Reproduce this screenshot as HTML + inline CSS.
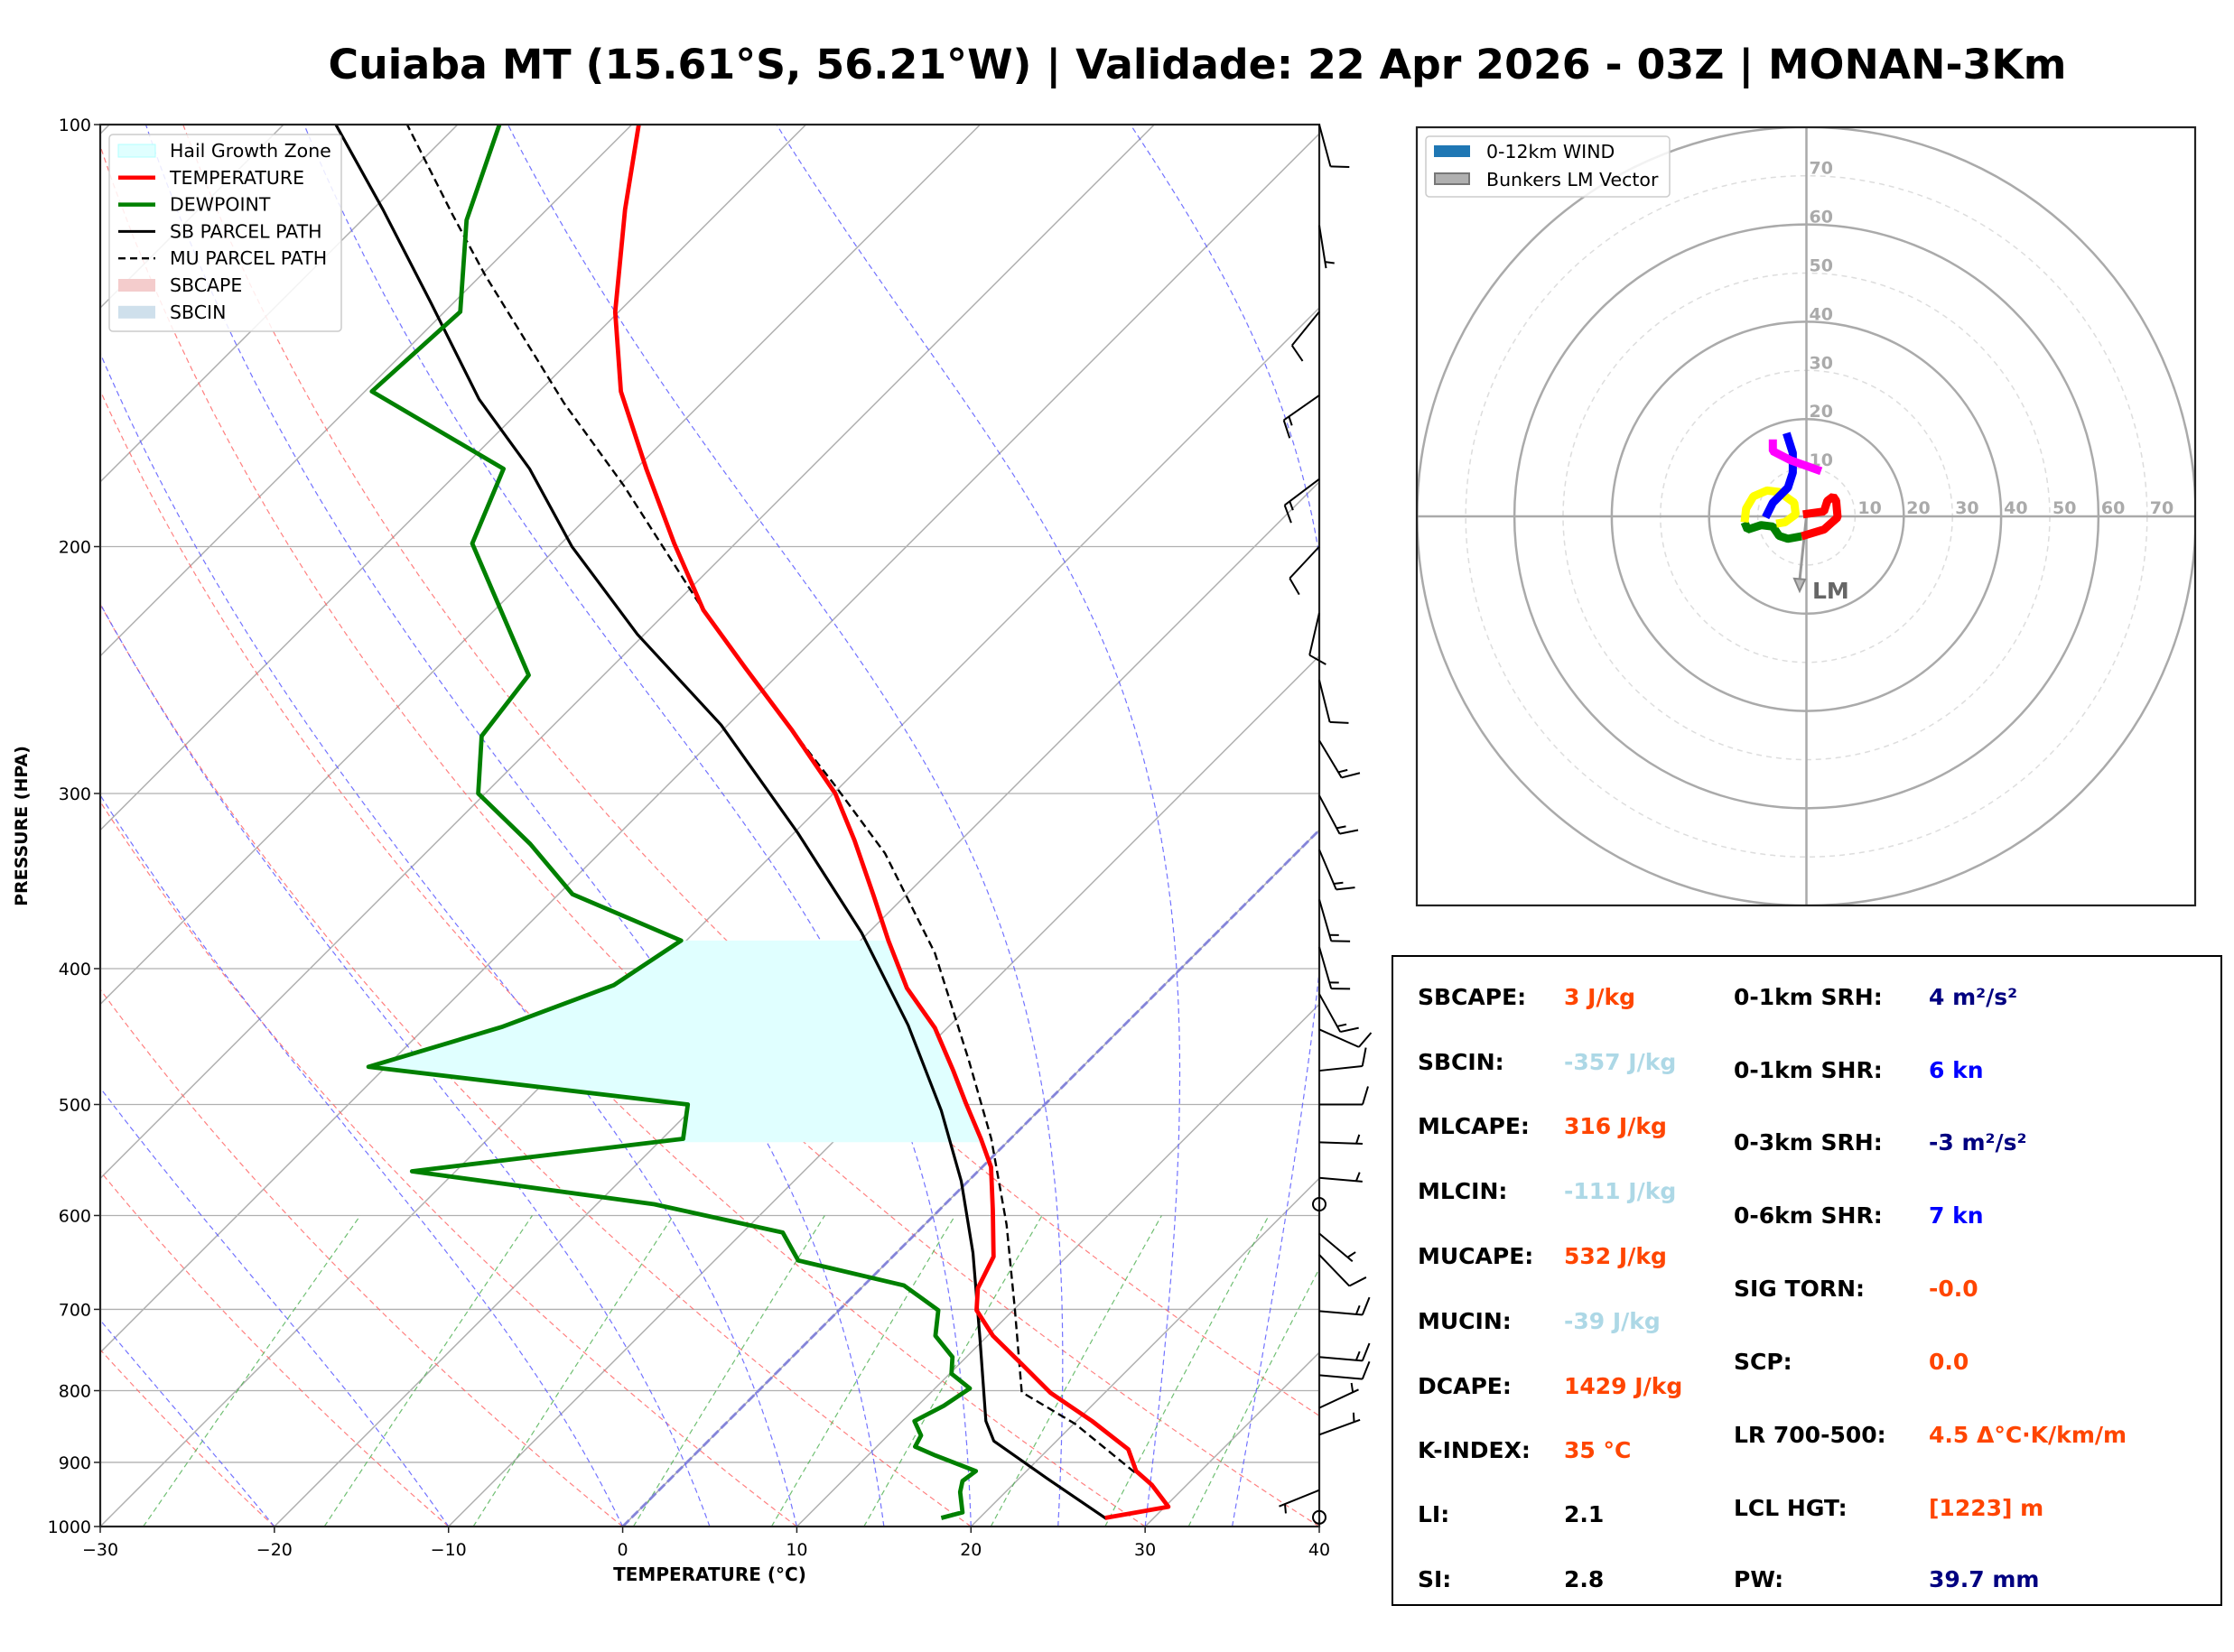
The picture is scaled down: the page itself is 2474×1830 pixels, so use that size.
<!DOCTYPE html>
<html><head><meta charset="utf-8"><style>
html,body{margin:0;padding:0;background:#fff}
svg{display:block;font-family:"DejaVu Sans","Liberation Sans",sans-serif}
</style></head><body>
<svg id="root" width="2474" height="1830" viewBox="0 0 2474 1830" xmlns="http://www.w3.org/2000/svg">
<defs>
<clipPath id="skewClip"><rect x="111" y="138" width="1350" height="1553"/></clipPath>
<clipPath id="hodoClip"><rect x="1569" y="141" width="862" height="862"/></clipPath>
</defs>
<rect x="0" y="0" width="2474" height="1830" fill="#fff"/>
<text x="1326" y="87" text-anchor="middle" font-size="45" font-weight="bold" textLength="1925" lengthAdjust="spacingAndGlyphs">Cuiaba MT (15.61°S, 56.21°W) | Validade: 22 Apr 2026 - 03Z | MONAN-3Km</text>
<g id="skew"></g>
<g id="hodo"></g>
<g id="table">
<rect x="1542" y="1059" width="918" height="719" fill="#fff" stroke="#000" stroke-width="2"/>
</g>
</svg>
<script>
// ---------- data ----------
const tempP=[986,968,934,913,881,841,803,766,731,701,676,642,595,554,529,499,473,441,413,382,355,324,300,270,244,222,199,176,155,136,115,100];
const tempT=[27.2,30.2,28.0,26.3,24.6,20.9,16.9,13.6,10.3,7.9,6.7,5.8,3.1,0.5,-1.7,-4.6,-7.2,-10.7,-14.6,-18.4,-21.8,-26.1,-29.9,-36.1,-42.3,-48.0,-53.5,-59.4,-65.3,-70.2,-75.5,-79.6];
const dewP=[986,977,945,928,913,890,877,861,841,820,797,778,757,731,701,673,646,617,589,558,529,500,470,440,411,382,354,326,300,273,247,199,176,155,136,117,100];
const dewT=[17.8,18.7,17.4,16.9,17.1,13.9,12.2,11.9,10.7,11.5,12.0,10.1,9.2,7.0,5.7,2.3,-5.2,-7.7,-16.7,-32.5,-18.8,-20.5,-41,-35.6,-31.6,-30.3,-39.2,-44.5,-50.4,-53.5,-54.3,-65.1,-67.6,-79.6,-79.1,-84,-87.6];
const sbP=[987,924,869,841,734,638,567,505,439,377,320,268,231,200,176,157,134,115,100];
const sbT=[27.3,21.6,16.4,14.8,9.7,4.4,-0.4,-5.6,-12.4,-20.4,-29.8,-40.4,-50.4,-59.2,-66.1,-73,-81.3,-89.4,-97];
const muP=[915,845,802,701,609,529,465,390,331,295,259,222,181,158,128,116,100];
const muT=[26.3,20.1,15.2,10.1,4.7,-1.1,-6.9,-15,-23.6,-30.6,-38.7,-48,-59.7,-67.9,-79.8,-85.1,-92.9];
const hgzTop=382, hgzBot=532;
const xTicks=[-30,-20,-10,0,10,20,30,40];
const pTicks=[100,200,300,400,500,600,700,800,900,1000];
const barbP=[100,118,136,156,179,200,223,249,275,301,329,357,386,417,442,473,500,532,564,618,640,702,757,780,823,860,942];
const barbDir=[165,171,219,235,233,223,193,166,149,152,157,164,164,151,114,84,90,92,95,130,136,95,95,95,65,70,248];
const barbSpd=[10,5,10,15,15,10,10,10,15,15,15,15,15,15,10,10,10,5,5,5,10,15,15,10,5,5,5];
const calmP=[589,985];
// hodograph (kt)
const hodoRedU=[-0.7,3.6,4.3,5.5,6.1,6.4,3.6,-1.0];
const hodoRedV=[0.4,1.0,3.2,4.1,3.2,-0.2,-2.7,-4.1];
const hodoGreenU=[-1.0,-3.8,-5.6,-6.9,-9.3,-12.1,-12.7];
const hodoGreenV=[-4.1,-4.6,-4.0,-2.1,-1.8,-2.7,-1.2];
const hodoYellowU=[-12.7,-12.4,-10.9,-8.1,-5.6,-2.5,-2.2,-4.4,-6.2];
const hodoYellowV=[-1.2,1.6,4.1,5.3,5.0,2.8,0.4,-1.2,-1.5];
const hodoBlueU=[-8.4,-6.9,-3.8,-2.8,-2.8,-4.1];
const hodoBlueV=[-0.2,2.8,5.9,9.0,13.0,17.1];
const hodoMagU=[-6.9,-6.9,-3.2,3.0];
const hodoMagV=[15.8,13.4,11.5,9.3];
const lmU=-1.4, lmV=-15.0;
const hodoRings=[10,20,30,40,50,60,70,80];
// ---------- helpers ----------
const NS="http://www.w3.org/2000/svg";
function mk(tag,attrs,parent){const e=document.createElementNS(NS,tag);for(const k in attrs)e.setAttribute(k,attrs[k]);parent.appendChild(e);return e;}
const X0=111,X1=1461,Y0=138,Y1=1691,PXC=(X1-X0)/70;
function yP(p){return Y1-(Y1-Y0)*Math.log10(1000/p);}
function xTP(t,p){return X0+(t+30)*PXC+(Y1-yP(p));}
function pathFrom(P,T){return P.map((p,i)=>(i?'L':'M')+xTP(T[i],p).toFixed(1)+','+yP(p).toFixed(1)).join('');}
function interp(P,T,p){for(let i=0;i<P.length-1;i++){const a=P[i],b=P[i+1];if((p<=a&&p>=b)){const f=(Math.log(a)-Math.log(p))/(Math.log(a)-Math.log(b));return T[i]+f*(T[i+1]-T[i]);}}return p>P[0]?T[0]:T[T.length-1];}
const skew=document.getElementById('skew');
const clipG=mk('g',{'clip-path':'url(#skewClip)'},skew);


// horizontal grid
pTicks.forEach(p=>{const l=mk('line',{x1:X0,x2:X1,y1:yP(p),y2:yP(p),stroke:'#b0b0b0','stroke-width':1.3},clipG);

});
// isotherms
for(let t=-160;t<=40;t+=10){const l=mk('line',{x1:xTP(t,1000),y1:Y1,x2:xTP(t,100),y2:Y0,stroke:'#b0b0b0','stroke-width':1.5},clipG);

}
// dry adiabats
const pl=[];for(let p=1000;p>=100;p-=10)pl.push(p);
for(let t0=-40;t0<=50;t0+=10){const th=t0+273.15;const T=pl.map(p=>th*Math.pow(p/1000,0.2857)-273.15);
const e=mk('path',{d:pathFrom(pl,T),fill:'none',stroke:'#ff6060','stroke-width':1.2,'stroke-dasharray':'6,4','stroke-opacity':0.8},clipG);

}
// moist adiabats
function es(tc){return 6.112*Math.exp(17.67*tc/(tc+243.5));}
[-40,-30,-20,-10,0,5,10,15,20,25,30,35].forEach(t0=>{let T=t0+273.15;const P=[1000],TT=[t0];
for(let p=1000;p>100;p-=2){const e=es(T-273.15);const rs=0.622*e/(p-e);const Lv=2.501e6,Rd=287.04,Cp=1005.7;
const dTdp=(1/p)*(Rd*T+Lv*rs)/(Cp+Lv*Lv*rs*0.622/(Rd*T*T));T-=dTdp*2;P.push(p-2);TT.push(T-273.15);}
const e=mk('path',{d:pathFrom(P,TT),fill:'none',stroke:'#5a5aff','stroke-width':1.2,'stroke-dasharray':'6,4','stroke-opacity':0.85},clipG);

});
// mixing ratio
[0.0004,0.001,0.002,0.004,0.007,0.01,0.016,0.024,0.032].forEach(w=>{const P=[],T=[];for(let p=1000;p>=600;p-=20){const e=p*w/(0.622+w);const l=Math.log(e/6.112);P.push(p);T.push(243.5*l/(17.67-l));}
const e=mk('path',{d:pathFrom(P,T),fill:'none',stroke:'#4caf50','stroke-width':1.2,'stroke-dasharray':'6,4','stroke-opacity':0.8},clipG);

});
// 0C isotherm
const zi=mk('line',{x1:xTP(0,1000),y1:Y1,x2:xTP(0,100),y2:Y0,stroke:'#7777dd','stroke-width':3,'stroke-dasharray':'10,4','stroke-opacity':0.8},clipG);


// HGZ fill
{const ps=[];for(let p=hgzBot;p>=hgzTop;p-=2)ps.push(p);ps.push(hgzTop);
let d='';ps.forEach((p,i)=>{d+=(i?'L':'M')+xTP(interp(dewP,dewT,p),p).toFixed(1)+','+yP(p).toFixed(1);});
ps.slice().reverse().forEach(p=>{d+='L'+xTP(interp(tempP,tempT,p),p).toFixed(1)+','+yP(p).toFixed(1);});
const h=mk('path',{d:d+'Z',fill:'#e0ffff'},clipG);

}
// profiles
const sb=mk('path',{d:pathFrom(sbP,sbT),fill:'none',stroke:'#000','stroke-width':3.2,'stroke-linejoin':'round'},clipG);


const mu=mk('path',{d:pathFrom(muP,muT),fill:'none',stroke:'#000','stroke-width':2.4,'stroke-dasharray':'9,5'},clipG);


const td=mk('path',{d:pathFrom(dewP,dewT),fill:'none',stroke:'#008000','stroke-width':4.8,'stroke-linejoin':'round'},clipG);


const tt=mk('path',{d:pathFrom(tempP,tempT),fill:'none',stroke:'#ff0000','stroke-width':4.8,'stroke-linejoin':'round'},clipG);


// frame
const fr=mk('rect',{x:X0,y:Y0,width:X1-X0,height:Y1-Y0,fill:'none',stroke:'#222','stroke-width':2.2},skew);


// ticks
xTicks.forEach(t=>{const x=X0+(t+30)*PXC;mk('line',{x1:x,x2:x,y1:Y1,y2:Y1+7,stroke:'#222','stroke-width':1.5},skew);
const tx=mk('text',{x:x,y:Y1+32,'font-size':19,'text-anchor':'middle'},skew);tx.textContent=(t<0?'\u2212':'')+Math.abs(t);

});
pTicks.forEach(p=>{const y=yP(p);mk('line',{x1:X0-7,x2:X0,y1:y,y2:y,stroke:'#222','stroke-width':1.5},skew);
const tx=mk('text',{x:X0-10,y:y+7,'font-size':19,'text-anchor':'end'},skew);tx.textContent=p;

});
{const t=mk('text',{x:786,y:1751,'font-size':20,'font-weight':'bold','text-anchor':'middle'},skew);t.textContent='TEMPERATURE (°C)';


const t2=mk('text',{x:30,y:915,'font-size':19,'font-weight':'bold','text-anchor':'middle',transform:'rotate(-90 30 915)'},skew);t2.textContent='PRESSURE (HPA)';

}
// barbs
barbP.forEach((p,i)=>{const d=barbDir[i]*Math.PI/180;const ux=Math.sin(d),uy=-Math.cos(d);const bx=X1,by=yP(p);
const g=mk('g',{stroke:'#000','stroke-width':2,fill:'none'},skew);


const L=48,tx=bx+ux*L,ty=by+uy*L;mk('line',{x1:bx,y1:by,x2:tx,y2:ty},g);
const px=uy,py=-ux;let full=Math.floor(barbSpd[i]/10),half=(barbSpd[i]%10)>=5?1:0;let off=0;
for(let k=0;k<full;k++){const sx=tx-ux*off,sy=ty-uy*off;mk('line',{x1:sx,y1:sy,x2:sx+px*20+ux*6,y2:sy+py*20+uy*6},g);off+=7;}
if(half){if(full===0)off=7;const sx=tx-ux*off,sy=ty-uy*off;mk('line',{x1:sx,y1:sy,x2:sx+px*10+ux*3,y2:sy+py*10+uy*3},g);}});
calmP.forEach(p=>{const c=mk('circle',{cx:X1,cy:yP(p),r:7,fill:'none',stroke:'#000','stroke-width':2},skew);

});
// legend
{const g=mk('g',{},skew);
mk('rect',{x:121,y:149,width:257,height:218,rx:4,fill:'#fff','fill-opacity':0.85,stroke:'#ccc','stroke-width':1.5},g);
const items=[['Hail Growth Zone','patch','#e0ffff','#b0ffff'],['TEMPERATURE','line','#ff0000'],['DEWPOINT','line','#008000'],['SB PARCEL PATH','line','#000'],['MU PARCEL PATH','dash','#000'],['SBCAPE','patch','#f4cccc'],['SBCIN','patch','#cfe0ec']];
items.forEach((it,i)=>{const y=167+i*29.8;
if(it[1]==='patch')mk('rect',{x:131,y:y-7,width:41,height:14,fill:it[2],stroke:it[3]||'none'},g);
else if(it[1]==='line')mk('line',{x1:131,x2:172,y1:y,y2:y,stroke:it[2],'stroke-width':it[2]==='#000'?3:4.5},g);
else mk('line',{x1:131,x2:172,y1:y,y2:y,stroke:it[2],'stroke-width':2.4,'stroke-dasharray':'8,5'},g);
const t=mk('text',{x:188,y:y+7,'font-size':20.5},g);t.textContent=it[0];

});}
// ---------- hodograph ----------
const hodo=document.getElementById('hodo');
const HX=2000.5,HY=572,HS=5.39;
const hc=mk('g',{'clip-path':'url(#hodoClip)'},hodo);


hodoRings.forEach(r=>{const solid=r%20===0;const c=mk('circle',{cx:HX,cy:HY,r:r*HS,fill:'none',stroke:solid?'#aaa':'#ddd','stroke-width':solid?2.5:1.5,'stroke-dasharray':solid?'none':'6,5'},hc);

});
mk('line',{x1:1569,x2:2431,y1:HY,y2:HY,stroke:'#aaa','stroke-width':2.5},hc);
mk('line',{x1:HX,x2:HX,y1:141,y2:1003,stroke:'#aaa','stroke-width':2.5},hc);
[10,20,30,40,50,60,70].forEach(r=>{const a=mk('text',{x:HX+r*HS+3,y:HY-3,'font-size':19,'font-weight':'bold',fill:'#aaa'},hc);a.textContent=r;


const b=mk('text',{x:HX+3,y:HY-r*HS-2,'font-size':19,'font-weight':'bold',fill:'#aaa'},hc);b.textContent=r;

});
function hseg(U,V,color,name){const d=U.map((u,i)=>(i?'L':'M')+(HX+u*HS).toFixed(1)+','+(HY-V[i]*HS).toFixed(1)).join('');
const e=mk('path',{d:d,fill:'none',stroke:color,'stroke-width':9,'stroke-linejoin':'bevel'},hc);

}
// LM arrow
{const ex=HX+lmU*HS,ey=HY-lmV*HS;const a=mk('line',{x1:HX,y1:HY,x2:ex,y2:ey-10,stroke:'#999','stroke-width':3},hc);


mk('path',{d:`M${ex-6},${ey-12}L${ex+6},${ey-11}L${ex},${ey+2}Z`,fill:'#bbb',stroke:'#888','stroke-width':2},hc);
const t=mk('text',{x:ex+14,y:ey+10,'font-size':25,'font-weight':'bold',fill:'#666'},hc);t.textContent='LM';

}
hseg(hodoRedU,hodoRedV,'#ff0000','hodo-segment-0-3km');
hseg(hodoGreenU,hodoGreenV,'#008000','hodo-segment-3-6km');
hseg(hodoYellowU,hodoYellowV,'#ffff00','hodo-segment-6-9km');
hseg(hodoBlueU,hodoBlueV,'#0000ff','hodo-segment-9-12km');
hseg(hodoMagU,hodoMagV,'#ff00ff','hodo-segment-upper');
{const f=mk('rect',{x:1569,y:141,width:862,height:862,fill:'none',stroke:'#222','stroke-width':2.2},hodo);


const g=mk('g',{},hodo);
mk('rect',{x:1579,y:151,width:270,height:67,rx:4,fill:'#fff','fill-opacity':0.85,stroke:'#ccc','stroke-width':1.5},g);
mk('rect',{x:1588,y:161,width:40,height:13,fill:'#1f77b4'},g);
mk('rect',{x:1589,y:192,width:38,height:12,fill:'#b0b0b0',stroke:'#777','stroke-width':2},g);
const t1=mk('text',{x:1646,y:175,'font-size':20.5},g);t1.textContent='0-12km WIND';


const t2=mk('text',{x:1646,y:206,'font-size':20.5},g);t2.textContent='Bunkers LM Vector';

}
// ---------- table ----------
const table=document.getElementById('table');
const leftLabels=['SBCAPE:','SBCIN:','MLCAPE:','MLCIN:','MUCAPE:','MUCIN:','DCAPE:','K-INDEX:','LI:','SI:'];
const leftVals=['3 J/kg','-357 J/kg','316 J/kg','-111 J/kg','532 J/kg','-39 J/kg','1429 J/kg','35 °C','2.1','2.8'];
const leftCols=['#ff4500','#add8e6','#ff4500','#add8e6','#ff4500','#add8e6','#ff4500','#ff4500','#000','#000'];
const leftY=[1104,1176,1247,1319,1391,1463,1535,1606,1677,1749];
const rightLabels=['0-1km SRH:','0-1km SHR:','0-3km SRH:','0-6km SHR:','SIG TORN:','SCP:','LR 700-500:','LCL HGT:','PW:'];
const rightVals=['4 m²/s²','6 kn','-3 m²/s²','7 kn','-0.0','0.0','4.5 Δ°C·K/km/m','[1223] m','39.7 mm'];
const rightCols=['#000080','#0000ff','#000080','#0000ff','#ff4500','#ff4500','#ff4500','#ff4500','#000080'];
const rightY=[1104,1185,1265,1346,1427,1508,1589,1670,1749];
function row(x1,x2,y,l,v,c){const a=mk('text',{x:x1,y:y+9,'font-size':25,'font-weight':'bold',fill:'#000'},table);a.textContent=l;


const b=mk('text',{x:x2,y:y+9,'font-size':25,'font-weight':'bold',fill:c},table);b.textContent=v;

}
leftLabels.forEach((l,i)=>row(1570,1732,leftY[i],l,leftVals[i],leftCols[i]));
rightLabels.forEach((l,i)=>row(1920,2136,rightY[i],l,rightVals[i],rightCols[i]));
</script>
</body></html>
